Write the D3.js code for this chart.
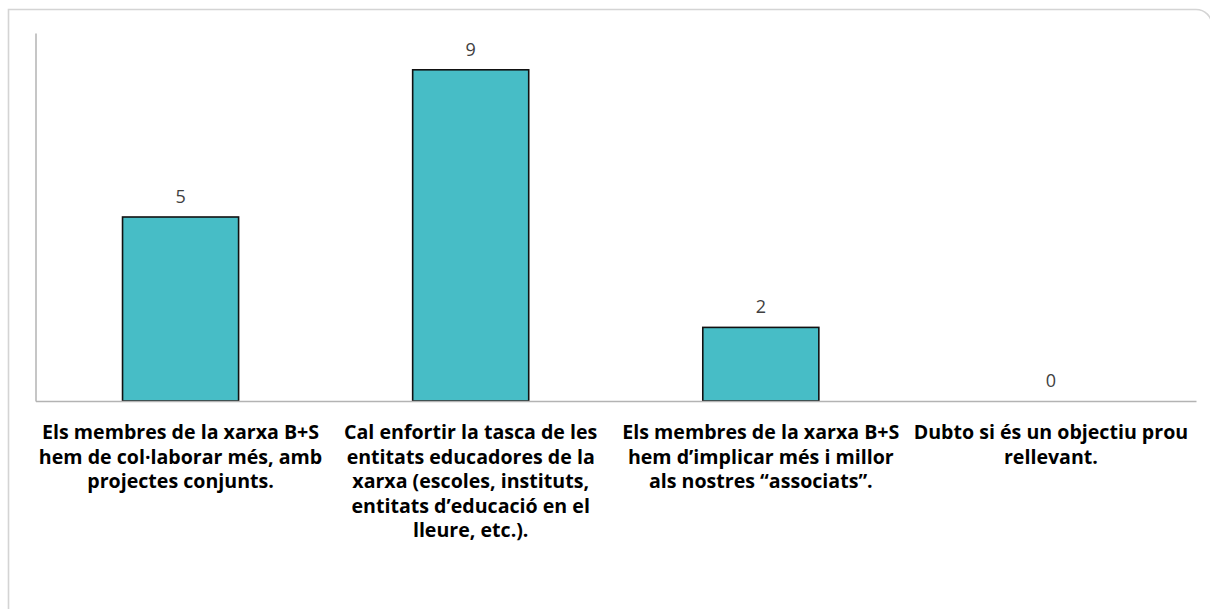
<!DOCTYPE html>
<html><head><meta charset="utf-8">
<script src="https://cdn.jsdelivr.net/npm/d3@7"></script>
<style>
html,body{margin:0;padding:0;background:#fff;}
svg{display:block;}
</style></head>
<body>
<svg id="chart" width="1210" height="609"></svg>
<script>
const categories = [
  ["Els membres de la xarxa B+S", "hem de col·laborar més, amb", "projectes conjunts."],
  ["Cal enfortir la tasca de les", "entitats educadores de la", "xarxa (escoles, instituts,", "entitats d’educació en el", "lleure, etc.)."],
  ["Els membres de la xarxa B+S", "hem d’implicar més i millor", "als nostres “associats”."],
  ["Dubto si és un objectiu prou", "rellevant."]
];
const categoryIds = ["c1", "c2", "c3", "c4"];
const values = [5, 9, 2, 0];
const yDomain = [0, 10];

const svg = d3.select("#chart");
const font = "'Open Sans', 'Noto Sans', sans-serif";

// outer frame
svg.append("path")
  .attr("d", "M8.5,620 V9.5 H1196 A16,16 0 0 1 1212,25.5")
  .attr("fill", "none").attr("stroke", "#d4d4d4").attr("stroke-width", 1.6);

const plotLeft = 35.5, plotRight = 1196, plotTop = 33, plotBottom = 401;
const x = d3.scaleBand().domain(categoryIds).range([plotLeft, plotRight]).paddingInner(0.6).paddingOuter(0.3);
const y = d3.scaleLinear().domain(yDomain).range([plotBottom, plotTop]);

// bars
svg.append("g").selectAll("rect").data(values).join("rect")
  .attr("x", (d, i) => x(categoryIds[i]))
  .attr("y", d => y(d))
  .attr("width", x.bandwidth())
  .attr("height", d => y(0) - y(d))
  .attr("fill", "#47BDC6")
  .attr("stroke", "#111").attr("stroke-width", 1.6);

// axes
const yAxis = d3.axisLeft(y).tickValues([]).tickSize(0).tickSizeOuter(0);
const gy = svg.append("g").attr("transform", `translate(${plotLeft},0)`).call(yAxis);
gy.select(".domain").attr("stroke", "#b3b3b3").attr("stroke-width", 1.5);

const xAxis = d3.axisBottom(x).tickSize(0).tickSizeOuter(0).tickFormat("");
const gx = svg.append("g").attr("transform", `translate(0,${plotBottom})`).call(xAxis);
gx.select(".domain").attr("stroke", "#b3b3b3").attr("stroke-width", 1.5);

// value labels
svg.append("g").selectAll("text").data(values).join("text")
  .attr("x", (d, i) => x(categoryIds[i]) + x.bandwidth() / 2)
  .attr("y", d => y(d) - 14)
  .attr("text-anchor", "middle")
  .attr("font-family", font).attr("font-size", 18)
  .attr("fill", "#404040")
  .text(d => d);

// category labels
const lab = svg.append("g").selectAll("text").data(categories).join("text")
  .attr("text-anchor", "middle")
  .attr("font-family", font).attr("font-size", 19.6).attr("font-weight", "bold")
  .attr("fill", "#000");
lab.each(function(lines, i) {
  const cx = x(categoryIds[i]) + x.bandwidth() / 2;
  d3.select(this).selectAll("tspan").data(lines).join("tspan")
    .attr("x", cx)
    .attr("y", (l, j) => 439 + j * 24.5)
    .text(l => l);
});
</script>
</body></html>
